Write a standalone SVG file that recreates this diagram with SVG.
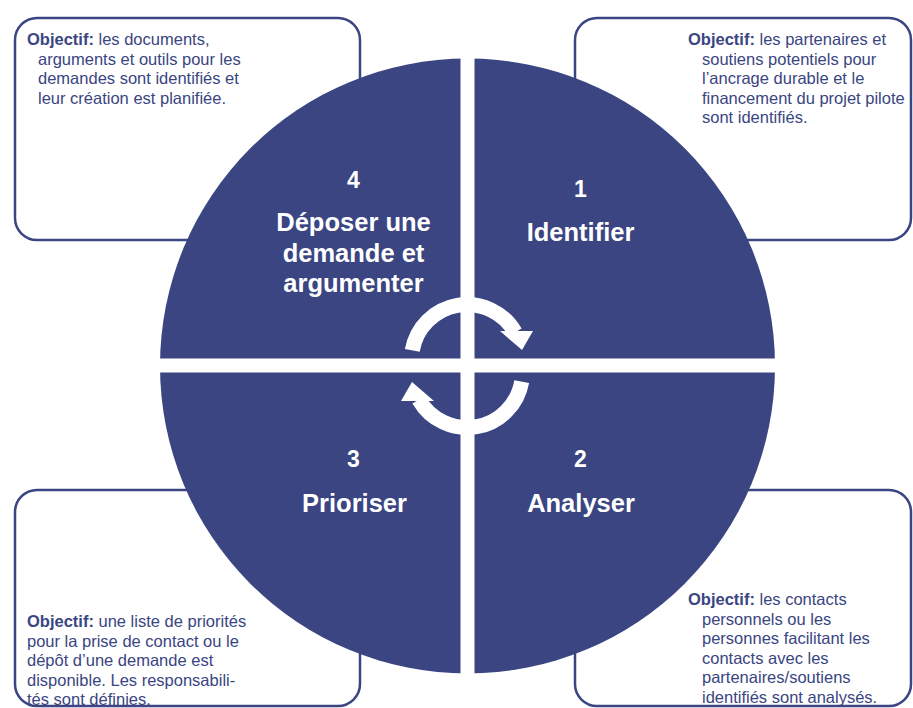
<svg xmlns="http://www.w3.org/2000/svg" width="913" height="708" viewBox="0 0 913 708">
<style>
.box{fill:#fff;stroke:#3A4582;stroke-width:2.5}
.t{font-family:"Liberation Sans",Arial,sans-serif;font-size:16.5px;fill:#3A4582}
.b{font-weight:bold}
.w{font-family:"Liberation Sans",Arial,sans-serif;font-weight:bold;fill:#fff;text-anchor:middle}
.n{font-size:23px}
.l{font-size:25.5px}
.arc{fill:none;stroke:#fff;stroke-width:15}
</style>
<rect width="913" height="708" fill="#fff"/>
<g id="box-tl">
<rect class="box" x="15" y="18" width="345" height="222" rx="22"/>
<text class="t"><tspan x="27" y="45"><tspan class="b">Objectif:</tspan> les documents,</tspan><tspan x="38" y="64.5">arguments et outils pour les</tspan><tspan x="38" y="84">demandes sont identifiés et</tspan><tspan x="38" y="103.5">leur création est planifiée.</tspan></text>
</g>
<g id="box-tr">
<rect class="box" x="575" y="18" width="336" height="222" rx="22"/>
<text class="t"><tspan x="688" y="45"><tspan class="b">Objectif:</tspan> les partenaires et</tspan><tspan x="702" y="64.5">soutiens potentiels pour</tspan><tspan x="702" y="84">l’ancrage durable et le</tspan><tspan x="702" y="103.5">financement du projet pilote</tspan><tspan x="702" y="123">sont identifiés.</tspan></text>
</g>
<g id="box-bl">
<rect class="box" x="15" y="490" width="345" height="216" rx="22"/>
<text class="t"><tspan x="27" y="627"><tspan class="b">Objectif:</tspan> une liste de priorités</tspan><tspan x="27" y="646.5">pour la prise de contact ou le</tspan><tspan x="27" y="666">dépôt d’une demande est</tspan><tspan x="27" y="685.5">disponible. Les responsabili-</tspan><tspan x="27" y="705">tés sont définies.</tspan></text>
</g>
<g id="box-br">
<rect class="box" x="575" y="490" width="336" height="216" rx="22"/>
<text class="t"><tspan x="688" y="605"><tspan class="b">Objectif:</tspan> les contacts</tspan><tspan x="702" y="624.5">personnels ou les</tspan><tspan x="702" y="644">personnes facilitant les</tspan><tspan x="702" y="663.5">contacts avec les</tspan><tspan x="702" y="683">partenaires/soutiens</tspan><tspan x="702" y="702.5">identifiés sont analysés.</tspan></text>
</g>
<g id="circle">
<circle cx="467.5" cy="366" r="307.5" fill="#3A4582"/>
<rect x="460.5" y="55" width="14" height="622" fill="#fff"/>
<rect x="156" y="358.5" width="623" height="14" fill="#fff"/>
</g>
<g id="step-4">
<text class="w n" x="353.5" y="188">4</text>
<text class="w l"><tspan x="353.5" y="231">Déposer une</tspan><tspan x="353.5" y="262">demande et</tspan><tspan x="353.5" y="292">argumenter</tspan></text>
</g>
<g id="step-1">
<text class="w n" x="580.5" y="197">1</text>
<text class="w l" x="580.5" y="241">Identifier</text>
</g>
<g id="step-3">
<text class="w n" x="353.5" y="467">3</text>
<text class="w l" x="354.5" y="512">Prioriser</text>
</g>
<g id="step-2">
<text class="w n" x="580.5" y="467">2</text>
<text class="w l" x="581" y="512">Analyser</text>
</g>
<g id="connectors">
<g id="arrow-top">
<path class="arc" d="M412.3 350.4 A55.5 55.5 0 0 1 515.1 332.3"/>
<polygon points="500,331 533,331 522,350" fill="#fff"/>
</g>
<g id="arrow-bottom" transform="rotate(180 467 366)">
<path class="arc" d="M412.3 350.4 A55.5 55.5 0 0 1 515.1 332.3"/>
<polygon points="500,331 533,331 522,350" fill="#fff"/>
</g>
</g>
</svg>
